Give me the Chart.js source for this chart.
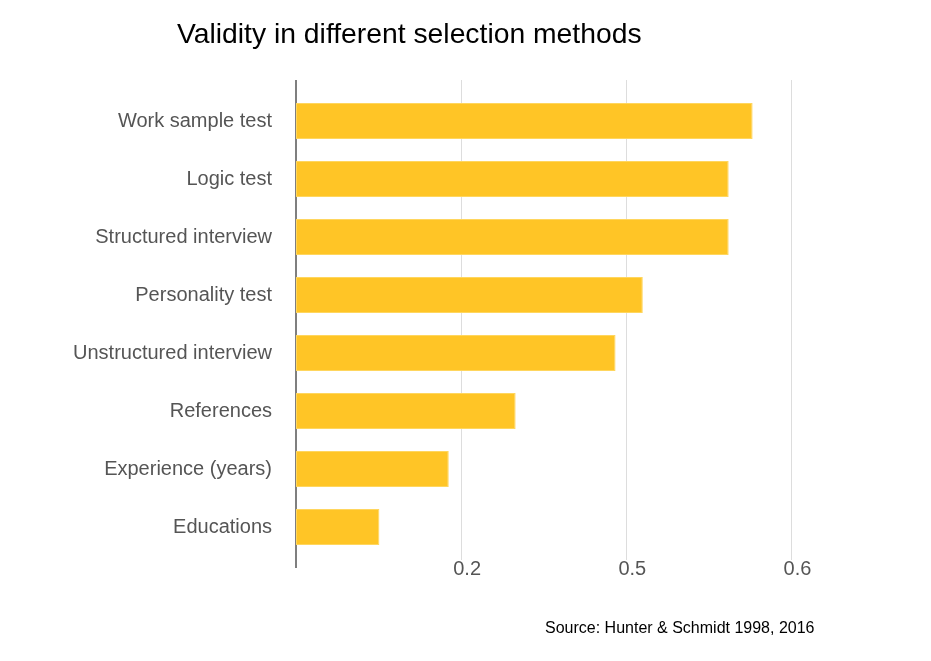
<!DOCTYPE html>
<html>
<head>
<meta charset="utf-8">
<script src="https://cdn.jsdelivr.net/npm/chart.js@4.4.1/dist/chart.umd.min.js"></script>
<style>
  html, body { margin: 0; padding: 0; background: #fff; }
  #wrap { position: relative; width: 931px; height: 661px; overflow: hidden; }
  #chart { position: absolute; left: 0; top: 0; }
  .title { position: absolute; left: 177px; top: 19px; font: 28.3px/28px "Liberation Sans", Arial, Helvetica, sans-serif; color: #000; white-space: nowrap; }
  .source { position: absolute; left: 545px; top: 620px; font: 16px/16px "Liberation Sans", Arial, Helvetica, sans-serif; color: #000; white-space: nowrap; }
</style>
</head>
<body>
<div id="wrap">
  <canvas id="chart" width="931" height="661"></canvas>
  <div class="title">Validity in different selection methods</div>
  <div class="source">Source: Hunter &amp; Schmidt 1998, 2016</div>
</div>
<script>
const categories = [
  "Work sample test",
  "Logic test",
  "Structured interview",
  "Personality test",
  "Unstructured interview",
  "References",
  "Experience (years)",
  "Educations"
];
const validity = [0.553, 0.524, 0.524, 0.42, 0.387, 0.266, 0.185, 0.101];
const tickValues = [0.2, 0.4, 0.6];
const tickLabels = ["0.2", "0.5", "0.6"];

const FONT = '"Liberation Sans", Arial, Helvetica, sans-serif';

const gridPlugin = {
  id: 'customGrid',
  beforeDatasetsDraw(chart) {
    const ctx = chart.ctx;
    const xs = chart.scales.x;
    const area = chart.chartArea;
    ctx.save();
    ctx.strokeStyle = '#dddddd';
    ctx.lineWidth = 1;
    tickValues.forEach(v => {
      const x = Math.round(xs.getPixelForValue(v)) + 0.5;
      ctx.beginPath();
      ctx.moveTo(x, area.top - 12);
      ctx.lineTo(x, area.bottom + 4);
      ctx.stroke();
    });
    ctx.strokeStyle = '#555555';
    ctx.lineWidth = 1.5;
    const x0 = xs.getPixelForValue(0);
    ctx.beginPath();
    ctx.moveTo(x0, area.top - 12);
    ctx.lineTo(x0, area.bottom + 12);
    ctx.stroke();
    ctx.restore();
  }
};

new Chart(document.getElementById('chart'), {
  type: 'bar',
  data: {
    labels: categories,
    datasets: [{
      data: validity,
      backgroundColor: '#FFC526',
      borderColor: '#FFD65E',
      borderWidth: 1,
      borderSkipped: false,
      categoryPercentage: 1,
      barPercentage: 0.62
    }]
  },
  options: {
    indexAxis: 'y',
    responsive: false,
    animation: false,
    devicePixelRatio: 1,
    layout: { padding: { left: 0, right: 57, top: 92, bottom: 75 } },
    plugins: {
      legend: { display: false },
      tooltip: { enabled: false },
      title: { display: false }
    },
    scales: {
      x: {
        type: 'linear',
        min: 0,
        max: 0.7,
        grid: { display: false },
        border: { display: false },
        afterFit: (s) => { s.height = 30; },
        afterBuildTicks: (s) => { s.ticks = tickValues.map(v => ({ value: v })); },
        ticks: {
          callback: (value, index) => tickLabels[index],
          font: { family: FONT, size: 20 },
          color: '#555555',
          padding: -7,
          labelOffset: 6,
          maxRotation: 0,
          autoSkip: false
        }
      },
      y: {
        type: 'category',
        grid: { display: false, drawTicks: false },
        border: { display: false },
        afterFit: (s) => { s.width = 296; },
        ticks: {
          font: { family: FONT, size: 20 },
          color: '#555555',
          padding: 24
        }
      }
    }
  },
  plugins: [gridPlugin]
});
</script>
</body>
</html>
